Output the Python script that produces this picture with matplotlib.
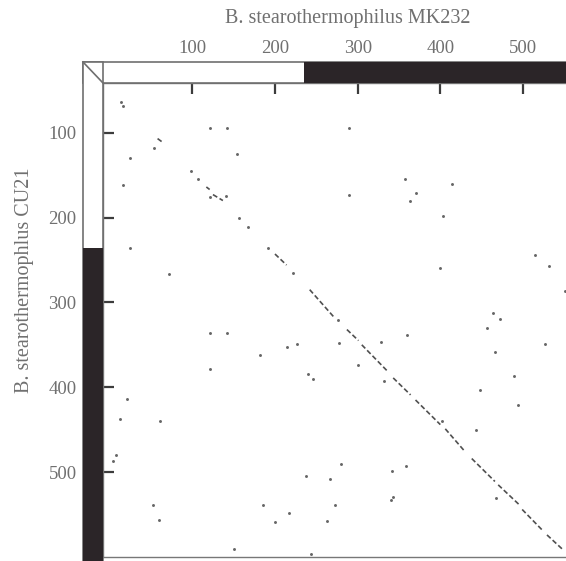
import numpy as np
import matplotlib.pyplot as plt
from matplotlib.patches import Rectangle
from matplotlib.lines import Line2D
from matplotlib.transforms import blended_transform_factory

plt.rcParams['font.family'] = ['Liberation Serif', 'DejaVu Serif']

# residue numbers of the two sequences
tick_vals = [100, 200, 300, 400, 500]
x_title = 'B. stearothermophilus MK232'
y_title = 'B. stearothermophlus CU21'

# end of the light (first) domain on each sequence
split_x = 235
split_y = 236

# scattered matches (MK232 position, CU21 position)
dot_x = [14, 16, 121, 142, 289, 54, 25, 154, 16, 121, 141, 289, 25, 72, 121, 142,
         357, 414, 370, 363, 403, 399, 514, 531, 551,
         464, 472, 456, 526, 466, 360, 328, 278, 301, 240, 246, 332, 489, 448, 494,
         402, 443, 280, 358, 238, 267, 341, 273, 343, 340, 467, 263, 243,
         182, 214, 227, 121, 21, 12, 61, 8, 4, 52, 60, 185, 217, 200, 151,
         98, 107, 157, 167, 192, 222, 276]
dot_y = [64, 69, 95, 95, 94, 118, 130, 125, 162, 176, 175, 174, 236, 266, 336, 336,
         155, 160, 171, 181, 198, 260, 244, 257, 286,
         313, 319, 330, 349, 359, 338, 347, 348, 374, 384, 390, 393, 387, 403, 421,
         440, 450, 491, 493, 505, 508, 499, 539, 529, 533, 531, 557, 596,
         362, 353, 349, 378, 414, 437, 440, 480, 487, 539, 556, 539, 548, 559, 591,
         145, 155, 201, 211, 236, 265, 321]

# runs of matches along the main diagonal
seg_x0 = [58, 117, 125, 200, 242, 287, 305, 343, 370, 406, 438, 470, 499, 529]
seg_y0 = [107, 164, 173, 243, 285, 332, 350, 389, 415, 449, 484, 515, 544, 574]
seg_x1 = [65, 121, 137, 214, 271, 301, 337, 364, 400, 430, 466, 495, 523, 549]
seg_y1 = [112, 167, 180, 256, 317, 345, 382, 409, 444, 476, 511, 538, 568, 592]

W, H = 566, 561
fig = plt.figure(figsize=(W / 100, H / 100), dpi=100)
ax = fig.add_axes([103 / W, 4 / H, 463 / W, 474 / H])

ax.scatter(dot_x, dot_y, s=4.5, color='#666666', linewidths=0, zorder=2)
for x0, y0, x1, y1 in zip(seg_x0, seg_y0, seg_x1, seg_y1):
    ax.plot([x0, x1], [y0, y1], color='#505050', lw=1.2,
            linestyle=(0, (3, 1.6)), solid_capstyle='butt', zorder=2)

ax.set_xlim(-8, 552)
ax.set_ylim(600, 41.5)

ax.xaxis.tick_top()
ax.set_xticks(tick_vals)
ax.set_yticks(tick_vals)
ax.tick_params(direction='in', length=8, width=1.6, pad=19, color='#3c3c3c',
               labelcolor='#707070', labelsize=13.5)
ax.spines['right'].set_visible(False)
for s in ['top', 'left', 'bottom']:
    ax.spines[s].set_color('#777777')
    ax.spines[s].set_linewidth(1.0)

# bevelled sequence bars
bw = 20 / 463
bh = 21 / 474
edge = '#6f6f6f'
dark = '#2b2528'
ax.add_patch(Rectangle((-bw, 1), 1 + bw + 0.1, bh, transform=ax.transAxes,
                       facecolor='white', edgecolor=edge, lw=1.2,
                       clip_on=False, zorder=3))
ax.add_patch(Rectangle((-bw, -0.1), bw, 1.1 + bh, transform=ax.transAxes,
                       facecolor='white', edgecolor=edge, lw=1.2,
                       clip_on=False, zorder=3))
tx = blended_transform_factory(ax.transData, ax.transAxes)
ax.add_patch(Rectangle((split_x, 1), 700 - split_x, bh, transform=tx,
                       facecolor=dark, edgecolor='none', clip_on=False, zorder=4))
ty = blended_transform_factory(ax.transAxes, ax.transData)
ax.add_patch(Rectangle((-bw, split_y), bw, 700 - split_y, transform=ty,
                       facecolor=dark, edgecolor='none', clip_on=False, zorder=4))
ax.add_line(Line2D([-bw, 0], [1 + bh, 1], transform=ax.transAxes, color=edge,
                   lw=1.2, clip_on=False, zorder=5))

fig.text(348 / W, 1 - 19 / H, x_title, ha='center', va='center',
         fontsize=14.5, color='#707070')
fig.text(25 / W, 1 - 280 / H, y_title, ha='center', va='center',
         rotation=90, fontsize=14.5, color='#707070')

fig.savefig('out.png', dpi=100, facecolor='white')
